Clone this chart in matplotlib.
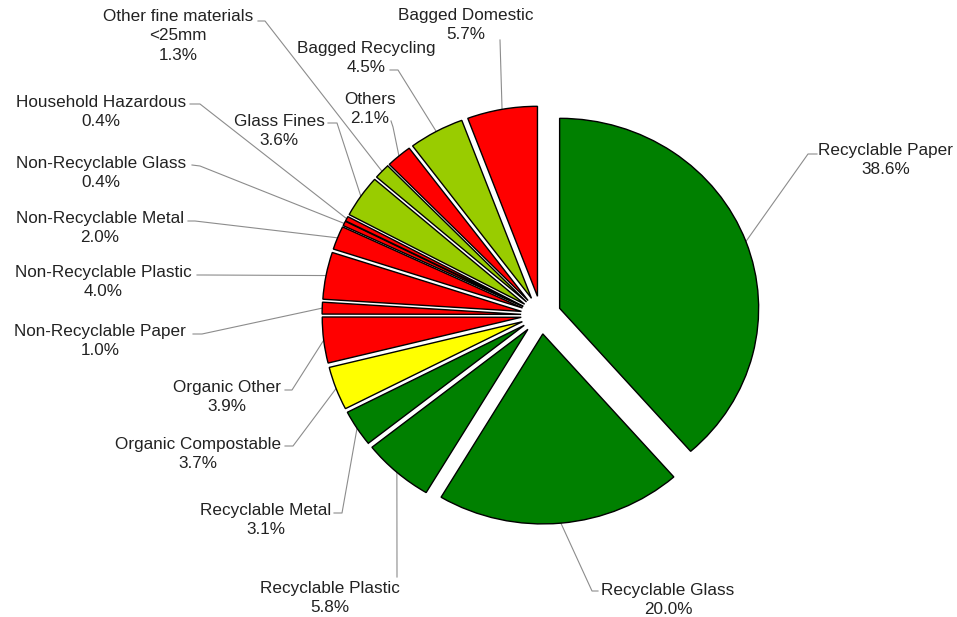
import matplotlib
matplotlib.use("Agg")
import matplotlib.pyplot as plt
import numpy as np

plt.rcParams["font.family"] = ["Liberation Sans", "DejaVu Sans"]

# data, clockwise from 12 o'clock
categories = ["Recyclable Paper", "Recyclable Glass", "Recyclable Plastic", "Recyclable Metal",
              "Organic Compostable", "Organic Other", "Non-Recyclable Paper", "Non-Recyclable Plastic",
              "Non-Recyclable Metal", "Non-Recyclable Glass", "Household Hazardous", "Glass Fines",
              "Other fine materials\n<25mm", "Others", "Bagged Recycling", "Bagged Domestic"]
shares = [38.6, 20.0, 5.8, 3.1, 3.7, 3.9, 1.0, 4.0, 2.0, 0.4, 0.4, 3.6, 1.3, 2.1, 4.5, 5.7]

GREEN, LIME, RED, YELLOW = "#008000", "#99CC00", "#FF0000", "#FFFF00"
colors = [GREEN, GREEN, GREEN, GREEN, YELLOW, RED, RED, RED,
          RED, RED, RED, LIME, LIME, RED, LIME, RED]

# layout in pixels: label centre, line start, elbow
label_pos = [(886, 160), (668, 600), (330, 598), (266, 520), (198, 454), (227, 397),
             (100, 341), (103, 282), (100, 228), (101, 173), (101, 112), (279, 131),
             (178, 36), (370, 109), (366, 58), (466, 25)]
line_start = [(817, 154), (598, 591), (397, 577), (334, 513), (285, 446), (285, 390),
              (193, 334), (197, 275), (188, 221), (192, 165), (190, 104), (328, 123),
              (258, 21), (391, 121), (390, 70), (500, 40)]
line_elbow = [(808, 154), (592, 591), (397, 577), (342, 513), (293, 446), (292, 390),
              (202, 334), (204, 275), (195, 221), (200, 166), (200, 104), (337, 123),
              (265, 21), (393, 127), (398, 70), (500, 40)]

W, H = 957, 617
CX, CY, SX, SY = 541, 315, 199, 190   # pie centre and px per unit (picture is a bit wide)


def px(x, y):
    return (x - CX) / SX, (CY - y) / SY


fig = plt.figure(figsize=(W / 100, H / 100), dpi=100)
ax = fig.add_axes([0, 0, 1, 1])
wedges, _ = ax.pie(shares, colors=colors, explode=[0.1] * len(shares), startangle=90,
                   counterclock=False,
                   wedgeprops=dict(edgecolor="black", linewidth=1.0))
ax.set_aspect("auto")
ax.set_xlim(px(0, 0)[0], px(W, 0)[0])
ax.set_ylim(px(0, H)[1], px(0, 0)[1])
ax.axis("off")

for w, name, val, lp, ls, le in zip(wedges, categories, shares, label_pos, line_start, line_elbow):
    th = np.deg2rad((w.theta1 + w.theta2) / 2)
    ex = w.center[0] + w.r * np.cos(th)
    ey = w.center[1] + w.r * np.sin(th)
    x0, y0 = px(*ls)
    x1, y1 = px(*le)
    ax.plot([x0, x1, ex], [y0, y1, ey], color="#8c8c8c", lw=0.8, zorder=0)
    tx, ty = px(*lp)
    ax.text(tx, ty, f"{name}\n{val:.1f}%", ha="center", va="center", multialignment="center",
            fontsize=12.3, color="#222222", linespacing=1.35)

fig.savefig("out.png", dpi=100)
